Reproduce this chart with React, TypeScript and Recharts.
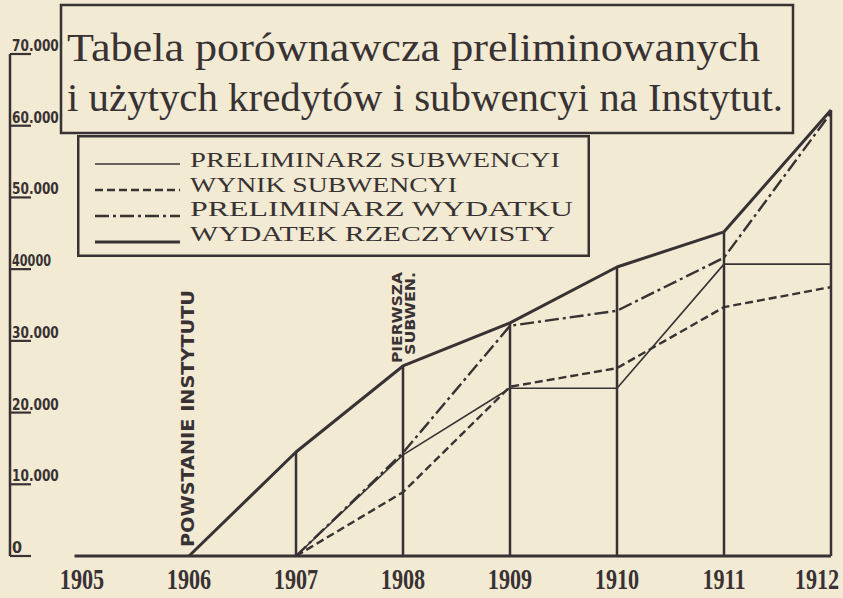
import React from 'react';
import { ComposedChart, Line, XAxis, YAxis, ReferenceLine, ReferenceDot, Legend } from 'recharts';

// ---------- data ----------
const years = [1905, 1906, 1907, 1908, 1909, 1910, 1911, 1912];
const preliminarzSubwencyi = [null, null, 0, 14100, 23400, 23400, 40700, 40700];
const wynikSubwencyi = [null, null, 0, 8900, 23600, 26200, 34700, 37500];
const preliminarzWydatku = [null, null, 0, 14400, 32100, 34200, 41600, 61800];
const wydatekRzeczywisty = [null, 0, 14500, 26500, 32500, 40300, 45200, 62200];

const yTicks = [0, 10000, 20000, 30000, 40000, 50000, 60000, 70000];
const yTickLabels = ['0', '10.000', '20.000', '30.000', '40000', '50.000', '60.000', '70.000'];

const seriesNames = ['PRELIMINARZ SUBWENCYI', 'WYNIK SUBWENCYI', 'PRELIMINARZ WYDATKU', 'WYDATEK RZECZYWISTY'];
const titleLines = ['Tabela porównawcza preliminowanych', 'i użytych kredytów i subwencyi na Instytut.'];
const foundingLabel = 'POWSTANIE   INSTYTUTU';
const foundingYear = 1906;
const firstSubsidyLabel = ['PIERWSZA', 'SUBWEN.'];
const firstSubsidyYear = 1908;

// ---------- styling ----------
const W = 843;
const H = 598;
const INK = '#383234';
const PAPER = '#f2ead2';
const SERIF = '"Liberation Serif", "DejaVu Serif", serif';
const COND = '"DejaVu Sans Condensed", "DejaVu Sans", sans-serif';
const X_DOMAIN: [number, number] = [1904.327, 1912];
const BASELINE_START = 1904.93;

const seriesStyles = [
  { key: 'ps', width: 1.6, dash: undefined as string | undefined },
  { key: 'ws', width: 2.4, dash: '8 4' },
  { key: 'pw', width: 2.4, dash: '14 4 3 4' },
  { key: 'wr', width: 3, dash: undefined as string | undefined },
];

const data = years.map((year, i) => ({
  year,
  ps: preliminarzSubwencyi[i],
  ws: wynikSubwencyi[i],
  pw: preliminarzWydatku[i],
  wr: wydatekRzeczywisty[i],
}));

const legendTextWidths = [370, 267, 383, 365];

const YTick = (props: any) => {
  const { x, y, payload } = props;
  const idx = yTicks.indexOf(payload.value);
  const label = yTickLabels[idx];
  const extra = label.length > 1 ? { textLength: label.length * 7.8, lengthAdjust: 'spacingAndGlyphs' } : {};
  return (
    <g>
      <line x1={x} x2={x + 21} y1={y} y2={y} stroke={INK} strokeWidth={2.2} />
      <text x={x + 2} y={y - 3} fontSize={16} fontWeight="bold" fontFamily={COND} fill={INK} {...extra}>
        {label}
      </text>
    </g>
  );
};

const XTick = (props: any) => {
  const { x, y, payload } = props;
  const cx = Math.min(x, W - 26);
  return (
    <g transform={`translate(${cx} ${y + 33}) scale(0.74 1)`}>
      <text x={0} y={0} textAnchor="middle" fontSize={30} fontFamily={SERIF} fontWeight="bold" fill={INK}>
        {payload.value}
      </text>
    </g>
  );
};

const FoundingLabel = (props: any) => {
  const vb = props.viewBox || {};
  const cx = vb.x + (vb.width || 0) / 2;
  const cy = vb.y + (vb.height || 0) / 2;
  const px = cx + 5;
  const py = cy - 9;
  return (
    <text
      x={px}
      y={py}
      transform={`rotate(-90 ${px} ${py})`}
      fontSize={18}
      fontWeight="bold"
      fontFamily={COND}
      fill={INK}
      textLength={257}
      lengthAdjust="spacingAndGlyphs"
    >
      {foundingLabel}
    </text>
  );
};

const FirstSubsidyLabel = (props: any) => {
  const vb = props.viewBox || {};
  const cx = vb.x + (vb.width || 0) / 2;
  const cy = vb.y + (vb.height || 0) / 2;
  const a = { px: cx - 1, py: cy - 3, len: 91 };
  const b = { px: cx + 12, py: cy - 11, len: 83 };
  return (
    <g>
      {[a, b].map((p, i) => (
        <text
          key={i}
          x={p.px}
          y={p.py}
          transform={`rotate(-90 ${p.px} ${p.py})`}
          fontSize={14}
          fontWeight="bold"
          fontFamily={COND}
          fill={INK}
          textLength={p.len}
          lengthAdjust="spacingAndGlyphs"
        >
          {firstSubsidyLabel[i]}
        </text>
      ))}
    </g>
  );
};

const renderLegend = () => (
  <svg width={513} height={122} style={{ display: 'block' }}>
    <rect x={1.25} y={1.25} width={510.5} height={119.5} fill={PAPER} stroke={INK} strokeWidth={2.5} />
    {seriesNames.map((name, i) => {
      const s = seriesStyles[i];
      const ly = 29 + i * 26;
      const ty = 32 + i * 24.5;
      return (
        <g key={name}>
          <line x1={18} x2={103} y1={ly} y2={ly} stroke={INK} strokeWidth={s.width} strokeDasharray={s.dash} />
          <text
            x={113}
            y={ty}
            fontSize={22}
            fontFamily={SERIF}
            fill={INK}
            textLength={legendTextWidths[i]}
            lengthAdjust="spacingAndGlyphs"
          >
            {name}
          </text>
        </g>
      );
    })}
  </svg>
);

export default function App() {
  return (
    <div style={{ position: 'absolute', left: 0, top: 0, width: W, height: H, background: PAPER, overflow: 'hidden' }}>
      <ComposedChart width={W} height={H} data={data} margin={{ top: 54, right: 12, bottom: 0, left: 0 }}>
        <XAxis
          dataKey="year"
          type="number"
          domain={X_DOMAIN}
          ticks={years}
          interval={0}
          height={42}
          axisLine={false}
          tickLine={false}
          tickSize={0}
          tickMargin={0}
          tick={<XTick />}
        />
        <YAxis
          type="number"
          domain={[0, 70000]}
          ticks={yTicks}
          interval={0}
          width={10}
          tickSize={0}
          tickMargin={0}
          tickLine={false}
          axisLine={{ stroke: INK, strokeWidth: 2.5 }}
          tick={<YTick />}
        />
        <ReferenceLine
          segment={[{ x: BASELINE_START, y: 0 }, { x: years[years.length - 1], y: 0 }]}
          stroke={INK}
          strokeWidth={3}
          ifOverflow="visible"
        />
        {years.map((yr, i) => {
          const v = wydatekRzeczywisty[i];
          if (v == null || v <= 0) return null;
          return (
            <ReferenceLine
              key={`v${yr}`}
              segment={[{ x: yr, y: 0 }, { x: yr, y: v }]}
              stroke={INK}
              strokeWidth={2.5}
              ifOverflow="visible"
            />
          );
        })}
        <ReferenceDot
          x={foundingYear}
          y={wydatekRzeczywisty[years.indexOf(foundingYear)] as number}
          r={1}
          fill="none"
          stroke="none"
          ifOverflow="visible"
          label={<FoundingLabel />}
        />
        <ReferenceDot
          x={firstSubsidyYear}
          y={wydatekRzeczywisty[years.indexOf(firstSubsidyYear)] as number}
          r={1}
          fill="none"
          stroke="none"
          ifOverflow="visible"
          label={<FirstSubsidyLabel />}
        />
        {seriesStyles.map((s, i) => (
          <Line
            key={s.key}
            dataKey={s.key}
            name={seriesNames[i]}
            type="linear"
            stroke={INK}
            strokeWidth={s.width}
            strokeDasharray={s.dash}
            strokeLinejoin="round"
            dot={false}
            activeDot={false}
            isAnimationActive={false}
          />
        ))}
        <Legend
          layout="vertical"
          align="center"
          verticalAlign="middle"
          wrapperStyle={{ position: 'absolute', left: 77, top: 135, width: 513, height: 122, margin: 0 }}
          content={renderLegend}
        />
      </ComposedChart>
      <svg width={W} height={H} style={{ position: 'absolute', left: 0, top: 0, pointerEvents: 'none' }}>
        <rect x={61} y={5} width={732} height={128} fill={PAPER} stroke={INK} strokeWidth={2.5} />
        <text x={67} y={61} fontSize={40} fontFamily={SERIF} fill={INK} textLength={693} lengthAdjust="spacingAndGlyphs">
          {titleLines[0]}
        </text>
        <text x={67} y={111} fontSize={40} fontFamily={SERIF} fill={INK} textLength={716} lengthAdjust="spacingAndGlyphs">
          {titleLines[1]}
        </text>
      </svg>
    </div>
  );
}
